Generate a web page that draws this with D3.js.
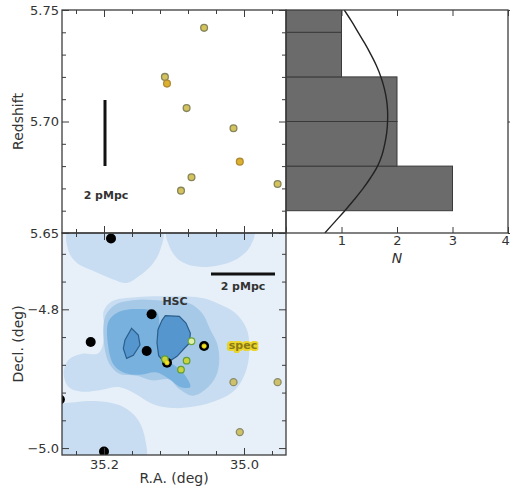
<!DOCTYPE html>
<html><head><meta charset="utf-8">
<script src="https://cdn.jsdelivr.net/npm/d3@7"></script>
<style>
html,body{margin:0;padding:0;background:#fff;}
svg{display:block;font-family:"DejaVu Sans",sans-serif;}
</style></head>
<body>
<svg id="c" width="510" height="493"></svg>
<script>
// ---------------- data ----------------
// spectroscopic members
const specRA  = [35.057, 35.113, 35.110, 35.082, 35.015, 35.006, 35.075, 35.090, 34.952];
const specDec = [-4.853, -4.872, -4.877, -4.874, -4.905, -4.977, -4.846, -4.887, -4.905];
const specZ   = [5.742, 5.720, 5.717, 5.706, 5.697, 5.682, 5.675, 5.669, 5.672];
const specTopGroup = ["a","a","b","a","a","b","a","a","a"];
const specMapGroup = ["ring","core","ring","core","field","field","core2","core","field"];
// HSC photometric candidates
const hscRA  = [35.190, 35.132, 35.219, 35.139, 35.263, 35.200, 35.110, 35.057];
const hscDec = [-4.698, -4.807, -4.847, -4.860, -4.930, -5.005, -4.877, -4.853];
// redshift histogram
const binLo  = [5.66, 5.68, 5.70, 5.72, 5.74];
const binHi  = [5.68, 5.70, 5.72, 5.74, 5.76];
const binN   = [3, 2, 2, 1, 1];
// fitted curve
const curveZ = [5.750,5.745,5.740,5.735,5.730,5.725,5.720,5.715,5.710,5.705,5.700,5.695,5.690,5.685,5.680,5.675,5.670,5.665,5.660,5.655,5.650];
const curveN = [1.05,1.18,1.30,1.42,1.53,1.63,1.71,1.77,1.81,1.83,1.83,1.815,1.78,1.73,1.65,1.53,1.39,1.23,1.06,0.88,0.70];
// density contours (RA, Dec vertices)
const lvl1a = [[35.2505,-4.6852],[35.1172,-4.6852],[35.1196,-4.714],[35.1315,-4.7356],[35.1505,-4.7525],[35.1672,-4.7621],[35.1886,-4.7563],[35.2172,-4.7438],[35.2386,-4.7332],[35.2505,-4.7164]];
const lvl1b = [[35.110,-4.6852],[34.9863,-4.6852],[34.991,-4.7092],[35.010,-4.7275],[35.0386,-4.7371],[35.0696,-4.738],[35.0934,-4.7284],[35.1067,-4.7092]];
const lvl1c = [[35.2576,-4.8918],[35.2505,-4.8726],[35.2314,-4.8639],[35.2076,-4.863],[35.1991,-4.8342],[35.2005,-4.8029],[35.1886,-4.7885],[35.1553,-4.7827],[35.1172,-4.7813],[35.060,-4.7837],[35.0363,-4.7919],[35.0124,-4.8053],[34.9958,-4.8293],[34.9925,-4.863],[34.9982,-4.8918],[35.0124,-4.9158],[35.0363,-4.9303],[35.0696,-4.9399],[35.1029,-4.9423],[35.1315,-4.936],[35.1553,-4.9216],[35.1791,-4.912],[35.2029,-4.9158],[35.2314,-4.9187],[35.2505,-4.912]];
const lvl1d = [[35.2648,-4.9399],[35.241,-4.9341],[35.2076,-4.9327],[35.1743,-4.9399],[35.1515,-4.9591],[35.141,-4.9879],[35.1419,-5.0167],[35.2648,-5.0167]];
const lvl2  = [[35.1981,-4.8101],[35.1838,-4.7933],[35.1505,-4.7861],[35.1172,-4.7875],[35.0791,-4.7909],[35.060,-4.8053],[35.0481,-4.8293],[35.0386,-4.8486],[35.0353,-4.8726],[35.040,-4.8966],[35.0543,-4.9149],[35.0734,-4.9245],[35.0924,-4.9149],[35.1067,-4.9014],[35.1315,-4.9024],[35.1529,-4.8957],[35.1781,-4.8928],[35.1924,-4.8784],[35.200,-4.8486]];
const lvl3  = [[35.1934,-4.8173],[35.1767,-4.8029],[35.1458,-4.7996],[35.1243,-4.8044],[35.121,-4.8245],[35.1243,-4.8534],[35.1172,-4.8702],[35.1005,-4.8798],[35.0848,-4.8942],[35.0767,-4.912],[35.0909,-4.912],[35.1067,-4.9005],[35.1258,-4.8908],[35.1481,-4.8942],[35.1705,-4.8918],[35.1862,-4.8798],[35.1943,-4.851]];
const lvl4a = [[35.1605,-4.8274],[35.151,-4.837],[35.1486,-4.8514],[35.1581,-4.8663],[35.1677,-4.8707],[35.1724,-4.8563],[35.170,-4.8442]];
const lvl4b = [[35.1124,-4.8092],[35.0924,-4.8101],[35.0829,-4.8197],[35.0767,-4.8342],[35.0777,-4.8486],[35.0848,-4.8558],[35.0957,-4.8678],[35.1067,-4.875],[35.1158,-4.874],[35.1219,-4.8668],[35.1243,-4.8486],[35.1229,-4.8293],[35.1172,-4.8159]];
// ticks
const zMajor = [5.65, 5.70, 5.75], zMajorLabels = ["5.65","5.70","5.75"];
const zMinor = [5.66,5.67,5.68,5.69,5.71,5.72,5.73,5.74];
const raMajor = [35.2, 35.0], raMajorLabels = ["35.2","35.0"];
const raMinor = [35.24,35.16,35.12,35.08,35.04,34.96];
const decMajor = [-4.8, -5.0], decMajorLabels = ["\u22124.8","\u22125.0"];
const decMinor = [-4.72,-4.76,-4.84,-4.88,-4.92,-4.96];
const nTicks = [0,1,2,3,4], nTickLabels = ["","1","2","3","4"];

// ---------------- layout ----------------
const L = 62, M = 286, R = 508, T = 10, Mid = 233, B = 455;
const svg = d3.select("#c");
const x = d3.scaleLinear().domain([35.26, 34.94]).range([L, M]);
const z = d3.scaleLinear().domain([5.65, 5.75]).range([Mid, T]);
const dec = d3.scaleLinear().domain([-5.01, -4.69]).range([B, Mid]);
const n = d3.scaleLinear().domain([0, 4]).range([M, R]);

const defs = svg.append("defs");
function clip(id, x0, y0, w, h){ defs.append("clipPath").attr("id", id).append("rect").attr("x",x0).attr("y",y0).attr("width",w).attr("height",h); }
clip("cTop", L, T, M-L, Mid-T);
clip("cHist", M, T, R-M, Mid-T);
clip("cMap", L, Mid, M-L, B-Mid);

const frameCol = "#3c3c3c", txtCol = "#333";

// ---------------- map panel ----------------
const gMap = svg.append("g").attr("clip-path","url(#cMap)");
gMap.append("rect").attr("x",L).attr("y",Mid).attr("width",M-L).attr("height",B-Mid).attr("fill","#e7f0f9");
const blob = d3.line().x(d=>x(d[0])).y(d=>dec(d[1])).curve(d3.curveCatmullRomClosed.alpha(0.5));
const poly = d3.line().x(d=>x(d[0])).y(d=>dec(d[1])).curve(d3.curveLinearClosed);
[lvl1a,lvl1b,lvl1c,lvl1d].forEach(p=> gMap.append("path").attr("d",blob(p)).attr("fill","#c8ddf1"));
gMap.append("path").attr("d",blob(lvl2)).attr("fill","#a6c9e8");
gMap.append("path").attr("d",blob(lvl3)).attr("fill","#79b1de");
[lvl4a,lvl4b].forEach(p=> gMap.append("path").attr("d",poly(p)).attr("fill","#5596cf").attr("stroke","#2b5e8a").attr("stroke-width",1.2));

// HSC dots
hscRA.forEach((r,i)=> gMap.append("circle").attr("cx",x(r)).attr("cy",dec(hscDec[i])).attr("r",5).attr("fill","#000"));
// spec dots
const mapStyle = {
  ring:  {f:"#f2e61e", s:"#e0c820", r:2.2, w:0.8},
  core:  {f:"#c9d33c", s:"#5e9c3c", r:3.3, w:1.2},
  core2: {f:"#dfeea8", s:"#6aa63c", r:3.3, w:1.2},
  field: {f:"#cdc16a", s:"#8b8b6a", r:3.5, w:1.3}
};
specRA.forEach((r,i)=>{ const st = mapStyle[specMapGroup[i]];
  gMap.append("circle").attr("cx",x(r)).attr("cy",dec(specDec[i])).attr("r",st.r).attr("fill",st.f).attr("stroke",st.s).attr("stroke-width",st.w); });

// scale bar + labels
gMap.append("line").attr("x1",211).attr("x2",275).attr("y1",274).attr("y2",274).attr("stroke","#111").attr("stroke-width",3);
gMap.append("text").attr("x",243).attr("y",290).attr("text-anchor","middle").attr("font-size",11).attr("font-weight","bold").attr("fill",txtCol).text("2 pMpc");
gMap.append("text").attr("x",175).attr("y",305).attr("text-anchor","middle").attr("font-size",11).attr("font-weight","bold").attr("fill",txtCol).text("HSC");
gMap.append("text").attr("x",243).attr("y",348.5).attr("text-anchor","middle").attr("font-size",11).attr("font-weight","bold")
  .attr("fill","#8a7a18").attr("stroke","#ecd52a").attr("stroke-width",4).attr("paint-order","stroke").attr("stroke-linejoin","round").text("spec");

// ---------------- top (redshift) panel ----------------
const gTop = svg.append("g").attr("clip-path","url(#cTop)");
const topStyle = { a:{f:"#d4c25c", s:"#85855c"}, b:{f:"#dcb030", s:"#b08a30"} };
specRA.forEach((r,i)=>{ const st = topStyle[specTopGroup[i]];
  gTop.append("circle").attr("cx",x(r)).attr("cy",z(specZ[i])).attr("r",3.4).attr("fill",st.f).attr("stroke",st.s).attr("stroke-width",1.3); });
gTop.append("line").attr("x1",105).attr("x2",105).attr("y1",100).attr("y2",166).attr("stroke","#111").attr("stroke-width",3);
gTop.append("text").attr("x",106).attr("y",199).attr("text-anchor","middle").attr("font-size",11).attr("font-weight","bold").attr("fill",txtCol).text("2 pMpc");

// ---------------- histogram ----------------
const gH = svg.append("g").attr("clip-path","url(#cHist)");
binN.forEach((c,i)=> gH.append("rect").attr("x",n(0)).attr("y",z(binHi[i])).attr("width",n(c)-n(0)).attr("height",z(binLo[i])-z(binHi[i]))
  .attr("fill","#6b6b6b").attr("stroke","#3a3a3a").attr("stroke-width",1));
const cl = d3.line().x((d,i)=>n(curveN[i])).y((d,i)=>z(d)).curve(d3.curveCatmullRom);
gH.append("path").attr("d",cl(curveZ)).attr("fill","none").attr("stroke","#222").attr("stroke-width",1.4);

// ---------------- axes ----------------
function styleAxis(g){ g.select(".domain").remove(); g.selectAll("line").attr("stroke",frameCol).attr("stroke-width",1);
  g.selectAll("text").attr("fill",txtCol).attr("font-size",13).attr("font-family","DejaVu Sans, sans-serif"); }
function ax(gen, tx, ty){ const g = svg.append("g").attr("transform",`translate(${tx},${ty})`).call(gen); styleAxis(g); return g; }
const noLab = ()=>"";
// top panel
ax(d3.axisLeft(z).tickValues(zMajor).tickFormat((d,i)=>zMajorLabels[i]).tickSizeInner(-7).tickSizeOuter(0).tickPadding(3), L, 0);
ax(d3.axisLeft(z).tickValues(zMinor).tickFormat(noLab).tickSizeInner(-4).tickSizeOuter(0), L, 0);
ax(d3.axisTop(x).tickValues(raMajor).tickFormat(noLab).tickSizeInner(-7).tickSizeOuter(0), 0, T);
ax(d3.axisTop(x).tickValues(raMinor).tickFormat(noLab).tickSizeInner(-4).tickSizeOuter(0), 0, T);
ax(d3.axisBottom(x).tickValues(raMajor).tickFormat(noLab).tickSizeInner(-7).tickSizeOuter(0), 0, Mid);
ax(d3.axisBottom(x).tickValues(raMinor).tickFormat(noLab).tickSizeInner(-4).tickSizeOuter(0), 0, Mid);
// histogram
ax(d3.axisRight(z).tickValues(zMajor).tickFormat(noLab).tickSizeInner(-7).tickSizeOuter(0), M, 0);
ax(d3.axisRight(z).tickValues(zMinor).tickFormat(noLab).tickSizeInner(-4).tickSizeOuter(0), M, 0);
ax(d3.axisLeft(z).tickValues(zMajor).tickFormat(noLab).tickSizeInner(-7).tickSizeOuter(0), R, 0);
ax(d3.axisTop(n).tickValues(nTicks).tickFormat(noLab).tickSizeInner(-6).tickSizeOuter(0), 0, T);
const nAx = ax(d3.axisBottom(n).tickValues(nTicks).tickFormat((d,i)=>nTickLabels[i]).tickSizeInner(-6).tickSizeOuter(0).tickPadding(3), 0, Mid);
// keep the last label ("4") inside the window
nAx.selectAll("text").filter(d=>d===nTicks[nTicks.length-1]).attr("text-anchor","end").attr("dx","0.1em");
// map panel
ax(d3.axisTop(x).tickValues(raMajor).tickFormat(noLab).tickSizeInner(-7).tickSizeOuter(0), 0, Mid);
ax(d3.axisTop(x).tickValues(raMinor).tickFormat(noLab).tickSizeInner(-4).tickSizeOuter(0), 0, Mid);
ax(d3.axisBottom(x).tickValues(raMajor).tickFormat((d,i)=>raMajorLabels[i]).tickSizeInner(-7).tickSizeOuter(0).tickPadding(5), 0, B);
ax(d3.axisBottom(x).tickValues(raMinor).tickFormat(noLab).tickSizeInner(-4).tickSizeOuter(0), 0, B);
ax(d3.axisLeft(dec).tickValues(decMajor).tickFormat((d,i)=>decMajorLabels[i]).tickSizeInner(-7).tickSizeOuter(0).tickPadding(3), L, 0);
ax(d3.axisLeft(dec).tickValues(decMinor).tickFormat(noLab).tickSizeInner(-4).tickSizeOuter(0), L, 0);
ax(d3.axisRight(dec).tickValues(decMajor).tickFormat(noLab).tickSizeInner(-7).tickSizeOuter(0), M, 0);
ax(d3.axisRight(dec).tickValues(decMinor).tickFormat(noLab).tickSizeInner(-4).tickSizeOuter(0), M, 0);

// frames
[[L,T,M-L,Mid-T],[M,T,R-M,Mid-T],[L,Mid,M-L,B-Mid]].forEach(r=> svg.append("rect").attr("x",r[0]).attr("y",r[1]).attr("width",r[2]).attr("height",r[3])
  .attr("fill","none").attr("stroke",frameCol).attr("stroke-width",1.3));

// axis titles
svg.append("text").attr("transform",`translate(23,${(T+Mid)/2}) rotate(-90)`).attr("text-anchor","middle").attr("font-size",14).attr("fill",txtCol).text("Redshift");
svg.append("text").attr("transform",`translate(23,${(Mid+B)/2}) rotate(-90)`).attr("text-anchor","middle").attr("font-size",14).attr("fill",txtCol).text("Decl. (deg)");
svg.append("text").attr("x",(L+M)/2).attr("y",483).attr("text-anchor","middle").attr("font-size",14).attr("fill",txtCol).text("R.A. (deg)");
svg.append("text").attr("x",n(2)).attr("y",263).attr("text-anchor","middle").attr("font-size",14).attr("font-style","italic").attr("fill",txtCol).text("N");
</script>
</body></html>
